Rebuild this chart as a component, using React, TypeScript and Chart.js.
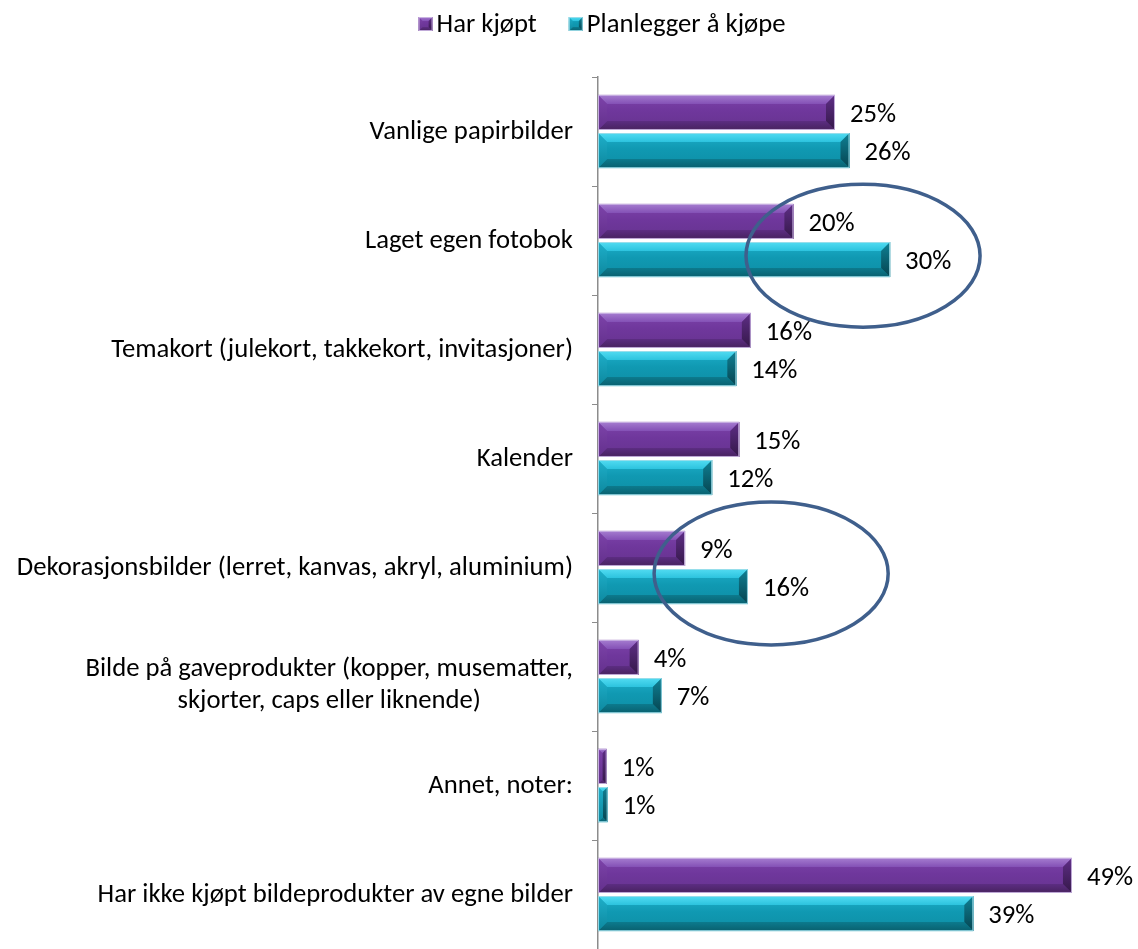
import React, { useEffect, useRef } from 'react';
import { Chart, registerables } from 'chart.js';

Chart.register(...registerables);

const categories: (string | string[])[] = [
  'Vanlige papirbilder',
  'Laget egen fotobok',
  'Temakort (julekort, takkekort, invitasjoner)',
  'Kalender',
  'Dekorasjonsbilder (lerret, kanvas, akryl, aluminium)',
  ['Bilde på gaveprodukter (kopper, musematter,', 'skjorter, caps eller liknende)'],
  'Annet, noter:',
  'Har ikke kjøpt bildeprodukter av egne bilder',
];
const seriesNames = ['Har kjøpt', 'Planlegger å kjøpe'];
const harKjopt = [24.5, 20.2, 15.8, 14.6, 9.0, 4.2, 0.9, 49.0];
const planlegger = [26.0, 30.2, 14.3, 11.8, 15.5, 6.6, 1.0, 38.8];

// highlight ellipses: category index, centre value, half-width in value units
const highlightCategories = [1, 4];
const highlightCentres = [27.4, 17.9];
const highlightHalfWidths = [12.1, 12.1];

const FONT = '"Carlito", "Open Sans", sans-serif';
const FONT_SIZE = 26.7;

type Pal = {
  face: string; faceTop: string; faceBottom: string;
  top1: string; top2: string; bot1: string; bot2: string;
  rightTop: string; rightBottom: string; leftTop: string; leftBottom: string; edge: string;
};
const palettes: Pal[] = [
  {
    face: '#6f379c', faceTop: '#7d43aa', faceBottom: '#66338f',
    top1: '#a67dd0', top2: '#8451b6', bot1: '#5c2d82', bot2: '#47225f',
    rightTop: '#5e2e86', rightBottom: '#351849', leftTop: '#7d43aa', leftBottom: '#63308c', edge: 'rgba(205,185,228,0.9)',
  },
  {
    face: '#1099b2', faceTop: '#1eafca', faceBottom: '#0e8ea5',
    top1: '#52dcf2', top2: '#2cc3de', bot1: '#0c7a8d', bot2: '#09606f',
    rightTop: '#0f8094', rightBottom: '#064450', leftTop: '#1eafca', leftBottom: '#0d889e', edge: 'rgba(160,222,234,0.9)',
  },
];

function poly(ctx: CanvasRenderingContext2D, pts: number[][], fill: string | CanvasGradient) {
  ctx.beginPath();
  ctx.moveTo(pts[0][0], pts[0][1]);
  for (let i = 1; i < pts.length; i++) ctx.lineTo(pts[i][0], pts[i][1]);
  ctx.closePath();
  ctx.fillStyle = fill;
  ctx.fill();
}

function bevelRect(ctx: CanvasRenderingContext2D, x0: number, y0: number, x1: number, y1: number, p: Pal, maxB: number) {
  const w = x1 - x0, h = y1 - y0;
  if (w <= 0 || h <= 0) return;
  const b = Math.min(maxB, h * 0.28, w / 2);
  let g = ctx.createLinearGradient(0, y0, 0, y1);
  g.addColorStop(0, p.faceTop);
  g.addColorStop(0.45, p.face);
  g.addColorStop(1, p.faceBottom);
  ctx.fillStyle = g;
  ctx.fillRect(x0, y0, w, h);
  g = ctx.createLinearGradient(0, y0, 0, y0 + b);
  g.addColorStop(0, p.top1);
  g.addColorStop(1, p.top2);
  poly(ctx, [[x0, y0], [x1, y0], [x1 - b, y0 + b], [x0 + b, y0 + b]], g);
  g = ctx.createLinearGradient(0, y1 - b, 0, y1);
  g.addColorStop(0, p.bot1);
  g.addColorStop(1, p.bot2);
  poly(ctx, [[x0, y1], [x1, y1], [x1 - b, y1 - b], [x0 + b, y1 - b]], g);
  g = ctx.createLinearGradient(0, y0, 0, y1);
  g.addColorStop(0, p.rightTop);
  g.addColorStop(1, p.rightBottom);
  poly(ctx, [[x1, y0], [x1, y1], [x1 - b, y1 - b], [x1 - b, y0 + b]], g);
  g = ctx.createLinearGradient(0, y0, 0, y1);
  g.addColorStop(0, p.leftTop);
  g.addColorStop(1, p.leftBottom);
  poly(ctx, [[x0, y0], [x0, y1], [x0 + b, y1 - b], [x0 + b, y0 + b]], g);
  ctx.strokeStyle = p.edge;
  ctx.lineWidth = 1;
  ctx.strokeRect(x0 + 0.5, y0 + 0.5, w - 1, h - 1);
}

const decorPlugin = {
  id: 'decor',
  afterDatasetsDraw(chart: any) {
    const ctx: CanvasRenderingContext2D = chart.ctx;
    ctx.save();
    // bevel bars
    chart.data.datasets.forEach((ds: any, di: number) => {
      const meta = chart.getDatasetMeta(di);
      meta.data.forEach((el: any) => {
        const { x, y, base, height } = el.getProps(['x', 'y', 'base', 'height'], true);
        bevelRect(ctx, Math.min(base, x), y - height / 2, Math.max(base, x), y + height / 2, palettes[di], 9);
      });
    });
    // value labels
    ctx.font = `${FONT_SIZE}px ${FONT}`;
    ctx.fillStyle = '#000';
    ctx.textAlign = 'left';
    ctx.textBaseline = 'middle';
    chart.data.datasets.forEach((ds: any, di: number) => {
      const meta = chart.getDatasetMeta(di);
      meta.data.forEach((el: any, i: number) => {
        const { x, y } = el.getProps(['x', 'y'], true);
        ctx.fillText(`${Math.round(ds.data[i])}%`, x + 15, y + 3);
      });
    });
    // category labels
    const ys = chart.scales.y;
    const right = ys.right - 25;
    const lineH = 32;
    categories.forEach((c, i) => {
      const lines = Array.isArray(c) ? c : [c];
      const cy = ys.getPixelForValue(i) + 1;
      const maxW = Math.max(...lines.map((l) => ctx.measureText(l).width));
      ctx.textAlign = lines.length > 1 ? 'center' : 'right';
      lines.forEach((l, k) => {
        const ly = cy + (k - (lines.length - 1) / 2) * lineH + (lines.length > 1 ? 8 : 0);
        ctx.fillText(l, lines.length > 1 ? right - maxW / 2 : right, ly);
      });
    });
    // highlight ellipses
    const xs = chart.scales.x;
    const catH = ys.getPixelForValue(1) - ys.getPixelForValue(0);
    ctx.strokeStyle = '#3f5f8c';
    ctx.lineWidth = 3.5;
    highlightCategories.forEach((ci, k) => {
      const cx = xs.getPixelForValue(highlightCentres[k]);
      const rx = xs.getPixelForValue(highlightCentres[k] + highlightHalfWidths[k]) - cx;
      const cy = ys.getPixelForValue(ci) + catH * (k === 0 ? 0.14 : 0.055);
      const ry = catH * 0.655;
      ctx.beginPath();
      ctx.ellipse(cx, cy, rx, ry, 0, 0, Math.PI * 2);
      ctx.stroke();
    });
    // legend
    ctx.textAlign = 'left';
    const box = 14, gapText = 4, gapItem = 32;
    const widths = seriesNames.map((n) => box + gapText + ctx.measureText(n).width);
    const total = widths.reduce((a, b) => a + b, 0) + gapItem;
    let lx = chart.width / 2 + 33 - total / 2;
    const lyc = 24;
    seriesNames.forEach((n, k) => {
      bevelRect(ctx, lx, lyc - box / 2, lx + box, lyc + box / 2, palettes[k], 4);
      ctx.fillStyle = '#000';
      ctx.fillText(n, lx + box + gapText, lyc + 1);
      lx += widths[k] + gapItem;
    });
    ctx.restore();
  },
};

export default function App() {
  const ref = useRef<HTMLCanvasElement | null>(null);
  useEffect(() => {
    if (!ref.current) return;
    const chart = new Chart(ref.current, {
      type: 'bar',
      data: {
        labels: categories.map((c) => (Array.isArray(c) ? c.join(' ') : c)),
        datasets: [
          { label: seriesNames[0], data: harKjopt, backgroundColor: palettes[0].face, borderWidth: 0, categoryPercentage: 0.7, barPercentage: 0.92 },
          { label: seriesNames[1], data: planlegger, backgroundColor: palettes[1].face, borderWidth: 0, categoryPercentage: 0.7, barPercentage: 0.92 },
        ],
      },
      options: {
        indexAxis: 'y',
        responsive: false,
        animation: false,
        layout: { padding: { top: 77, right: 8, left: 0, bottom: 0 } },
        plugins: { legend: { display: false }, tooltip: { enabled: false } },
        scales: {
          x: { type: 'linear', display: false, min: 0, max: 55 },
          y: {
            type: 'category',
            grid: { display: true, drawOnChartArea: false, drawTicks: true, tickLength: 6, offset: true, color: '#8c8c8c', lineWidth: 1 },
            border: { display: true, color: '#8c8c8c', width: 1.5 },
            ticks: { display: false },
            afterFit: (s: any) => { s.width = 598; },
          },
        },
      },
      plugins: [decorPlugin],
    } as any);
    return () => chart.destroy();
  }, []);
  return (
    <div style={{ position: 'fixed', left: 0, top: 0, width: 1138, height: 949, background: '#fff' }}>
      <canvas ref={ref} width={1138} height={949} />
    </div>
  );
}
